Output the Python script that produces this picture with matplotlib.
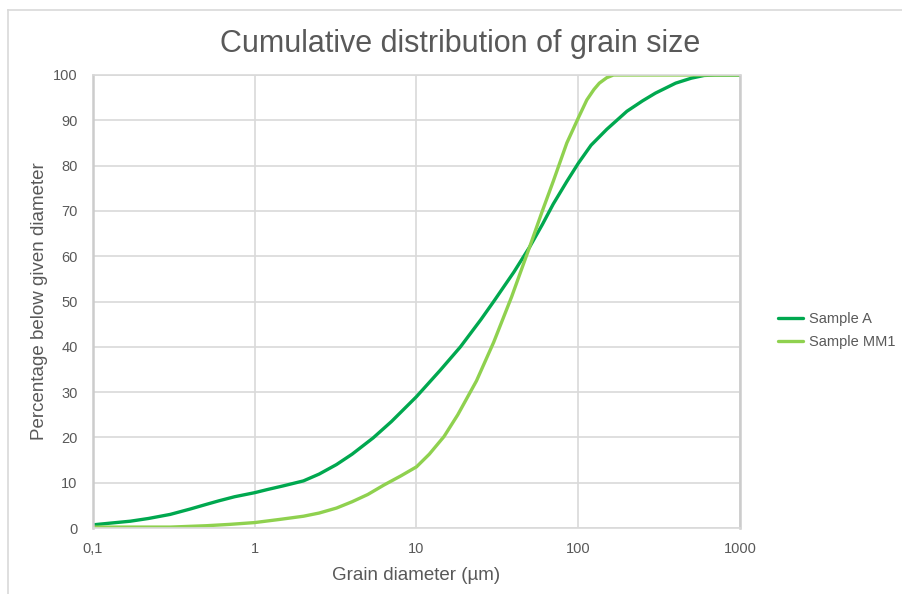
import matplotlib
matplotlib.use("Agg")
import matplotlib.pyplot as plt
from matplotlib.lines import Line2D
from matplotlib.ticker import FixedLocator, NullLocator

# grain diameter (µm) and cumulative percentage
diam_a = [0.1, 0.13, 0.17, 0.22, 0.3, 0.4, 0.5, 0.6, 0.75, 1.0, 1.2, 1.5,
          2.0, 2.5, 3.2, 4.0, 5.4, 7.0, 10, 14, 18.7, 25, 30, 40, 50, 60,
          70, 85, 100, 120, 150, 200, 250, 300, 400, 500, 600, 700, 1000]
pct_a = [0.7, 1.1, 1.5, 2.1, 3.0, 4.2, 5.2, 6.0, 6.9, 7.8, 8.5, 9.3,
         10.4, 11.9, 14.0, 16.3, 19.9, 23.5, 29.0, 34.8, 40.0, 46.0, 50.0,
         56.5, 62.0, 67.0, 71.5, 76.5, 80.5, 84.5, 88.0, 92.0, 94.3, 96.0,
         98.2, 99.3, 99.9, 100.0, 100.0]

diam_mm1 = [0.1, 0.3, 0.5, 0.7, 1.0, 1.43, 2.0, 2.5, 3.2, 4.0, 5.0, 6.3,
            8.0, 10, 12, 14.8, 18, 23.5, 30, 38.7, 50, 60, 70, 85, 100,
            113, 125, 135, 150, 165, 1000]
pct_mm1 = [0.2, 0.2, 0.5, 0.8, 1.2, 1.9, 2.6, 3.3, 4.4, 5.8, 7.4, 9.5,
           11.5, 13.5, 16.3, 20.2, 25.0, 32.5, 41.0, 51.0, 62.0, 70.0,
           76.5, 85.0, 90.5, 94.5, 96.8, 98.2, 99.4, 100.0, 100.0]

x_ticks = [0.1, 1, 10, 100, 1000]
x_labels = ["0,1", "1", "10", "100", "1000"]
y_ticks = list(range(0, 101, 10))

TXT = "#595959"
GRID = "#d9d9d9"
plt.rcParams["font.family"] = ["Liberation Sans", "DejaVu Sans"]

fig = plt.figure(figsize=(9.03, 5.94), dpi=100)
ax = fig.add_axes([93 / 903, 66 / 594, 647 / 903, 453 / 594])

ax.plot(diam_a, pct_a, color="#00a84f", lw=2.4, label="Sample A",
        solid_capstyle="round", solid_joinstyle="round")
ax.plot(diam_mm1, pct_mm1, color="#8fd14f", lw=2.4, label="Sample MM1",
        solid_capstyle="round", solid_joinstyle="round")

ax.set_xscale("log")
ax.set_xlim(0.1, 1000)
ax.set_ylim(0, 100)
ax.xaxis.set_major_locator(FixedLocator(x_ticks))
ax.xaxis.set_minor_locator(NullLocator())
ax.set_xticklabels(x_labels)
ax.set_yticks(y_ticks)
ax.tick_params(length=0, colors=TXT, labelsize=10.5)
ax.tick_params(axis="x", pad=10)
ax.tick_params(axis="y", pad=11)
ax.grid(True, color=GRID, lw=1.2)
ax.set_axisbelow(True)
for side in ["top", "bottom"]:
    ax.spines[side].set_color(GRID)
    ax.spines[side].set_linewidth(1.2)
for side in ["left", "right"]:
    ax.spines[side].set_color("#cccccc")
    ax.spines[side].set_linewidth(1.8)

fig.text(460 / 903, 1 - 44 / 594, "Cumulative distribution of grain size",
         color=TXT, fontsize=22, ha="center", va="center")
ax.set_xlabel("Grain diameter (µm)", color=TXT, fontsize=13.5, labelpad=8)
ax.set_ylabel("Percentage below given diameter", color=TXT, fontsize=13.5,
              labelpad=4)

leg = ax.legend(loc="center left", bbox_to_anchor=(1.058, 0.436),
                frameon=False, fontsize=10.5, handlelength=1.75,
                handletextpad=0.4, labelspacing=0.6, borderpad=0,
                borderaxespad=0)
for t in leg.get_texts():
    t.set_color(TXT)

# thin frame on the top and left edge of the screenshot
fig.add_artist(Line2D([8 / 903, 1], [584 / 594, 584 / 594], color=GRID,
                      lw=1.2, transform=fig.transFigure))
fig.add_artist(Line2D([8 / 903, 8 / 903], [0, 584 / 594], color=GRID,
                      lw=1.2, transform=fig.transFigure))

fig.savefig("out.png", dpi=100)
